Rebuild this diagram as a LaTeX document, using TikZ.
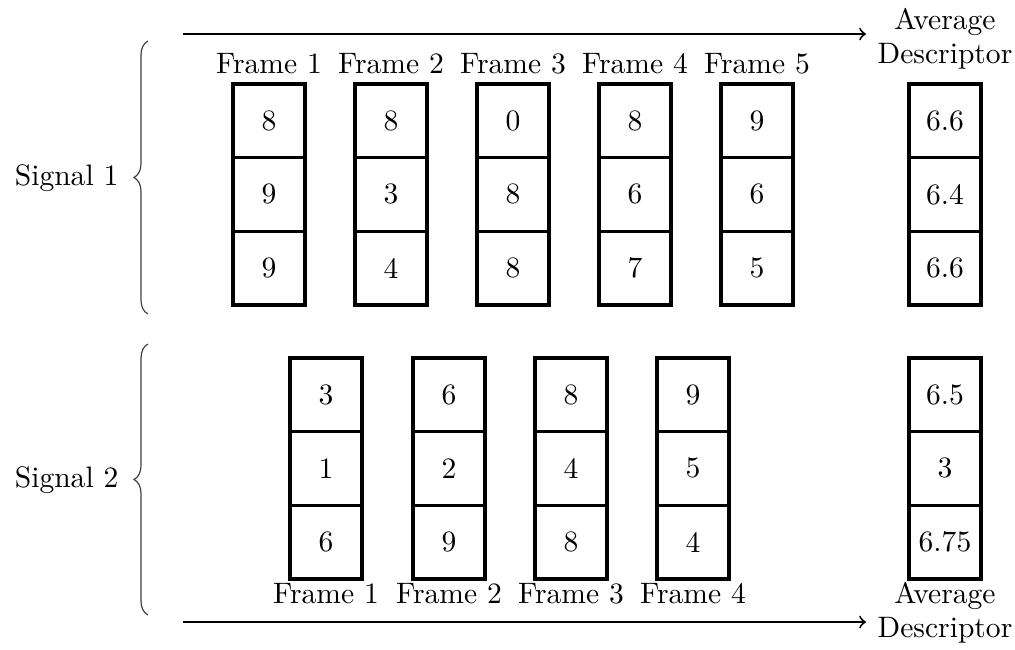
\documentclass[tikz,border=0pt]{standalone}
\usetikzlibrary{decorations.pathreplacing}
\newdimen\pxl \pxl=0.338pt
\begin{document}
\begin{tikzpicture}[x=\pxl,y=-\pxl,
  cell/.style={draw, line width=0.55pt, minimum width=70*\pxl, minimum height=72*\pxl, inner sep=0pt, anchor=north},
  frm/.style={line width=1.35pt},
  lbl/.style={anchor=base, inner sep=0pt},
  sig/.style={anchor=base east, inner sep=0pt},
  brc/.style={decorate, decoration={brace, amplitude=14*\pxl}, line width=0.4pt, draw=black!75},
  arr/.style={->, line width=0.65pt}]
\useasboundingbox (0,0) rectangle (1015,650);
% Signal 1
\foreach \c/\a/\b/\d [count=\i] in {269/8/9/9, 391/8/3/4, 513/0/8/8, 635/8/6/7, 757/9/6/5} {
  \node[cell] (s1f\i-a) at (\c,84) {\a};
  \node[cell] (s1f\i-b) at (s1f\i-a.south) {\b};
  \node[cell] (s1f\i-c) at (s1f\i-b.south) {\d};
  \draw[frm] (s1f\i-a.north west) rectangle (s1f\i-c.south east);
  \node[lbl] (s1l\i) at (\c,73) {Frame \i};
}
\node[cell] (s1av-a) at (945,84) {6.6};
\node[cell] (s1av-b) at (s1av-a.south) {6.4};
\node[cell] (s1av-c) at (s1av-b.south) {6.6};
\draw[frm] (s1av-a.north west) rectangle (s1av-c.south east);
\node[lbl] (s1avl1) at (945,29) {Average};
\node[lbl] (s1avl2) at (945,63) {Descriptor};
% Signal 2
\foreach \c/\a/\b/\d [count=\i] in {326/3/1/6, 449/6/2/9, 571/8/4/8, 693/9/5/4} {
  \node[cell] (s2f\i-a) at (\c,358) {\a};
  \node[cell] (s2f\i-b) at (s2f\i-a.south) {\b};
  \node[cell] (s2f\i-c) at (s2f\i-b.south) {\d};
  \draw[frm] (s2f\i-a.north west) rectangle (s2f\i-c.south east);
  \node[lbl] (s2l\i) at (\c,603) {Frame \i};
}
\node[cell] (s2av-a) at (945,358) {6.5};
\node[cell] (s2av-b) at (s2av-a.south) {3};
\node[cell] (s2av-c) at (s2av-b.south) {6.75};
\draw[frm] (s2av-a.north west) rectangle (s2av-c.south east);
\node[lbl] (s2avl1) at (945,603) {Average};
\node[lbl] (s2avl2) at (945,637) {Descriptor};
% arrows
\coordinate (ta) at (183,34);
\coordinate (tb) at (866,34);
\draw[arr] (ta) -- (tb);
\coordinate (ba) at (183,622);
\coordinate (bb) at (866,622);
\draw[arr] (ba) -- (bb);
% signal labels and braces
\node[sig] (sig1) at (119,185) {Signal 1};
\node[sig] (sig2) at (119,487) {Signal 2};
\coordinate (b1a) at (148,314);
\coordinate (b1b) at (148,41);
\draw[brc] (b1a) -- (b1b);
\coordinate (b2a) at (148,615);
\coordinate (b2b) at (148,344);
\draw[brc] (b2a) -- (b2b);
\end{tikzpicture}
\end{document}
